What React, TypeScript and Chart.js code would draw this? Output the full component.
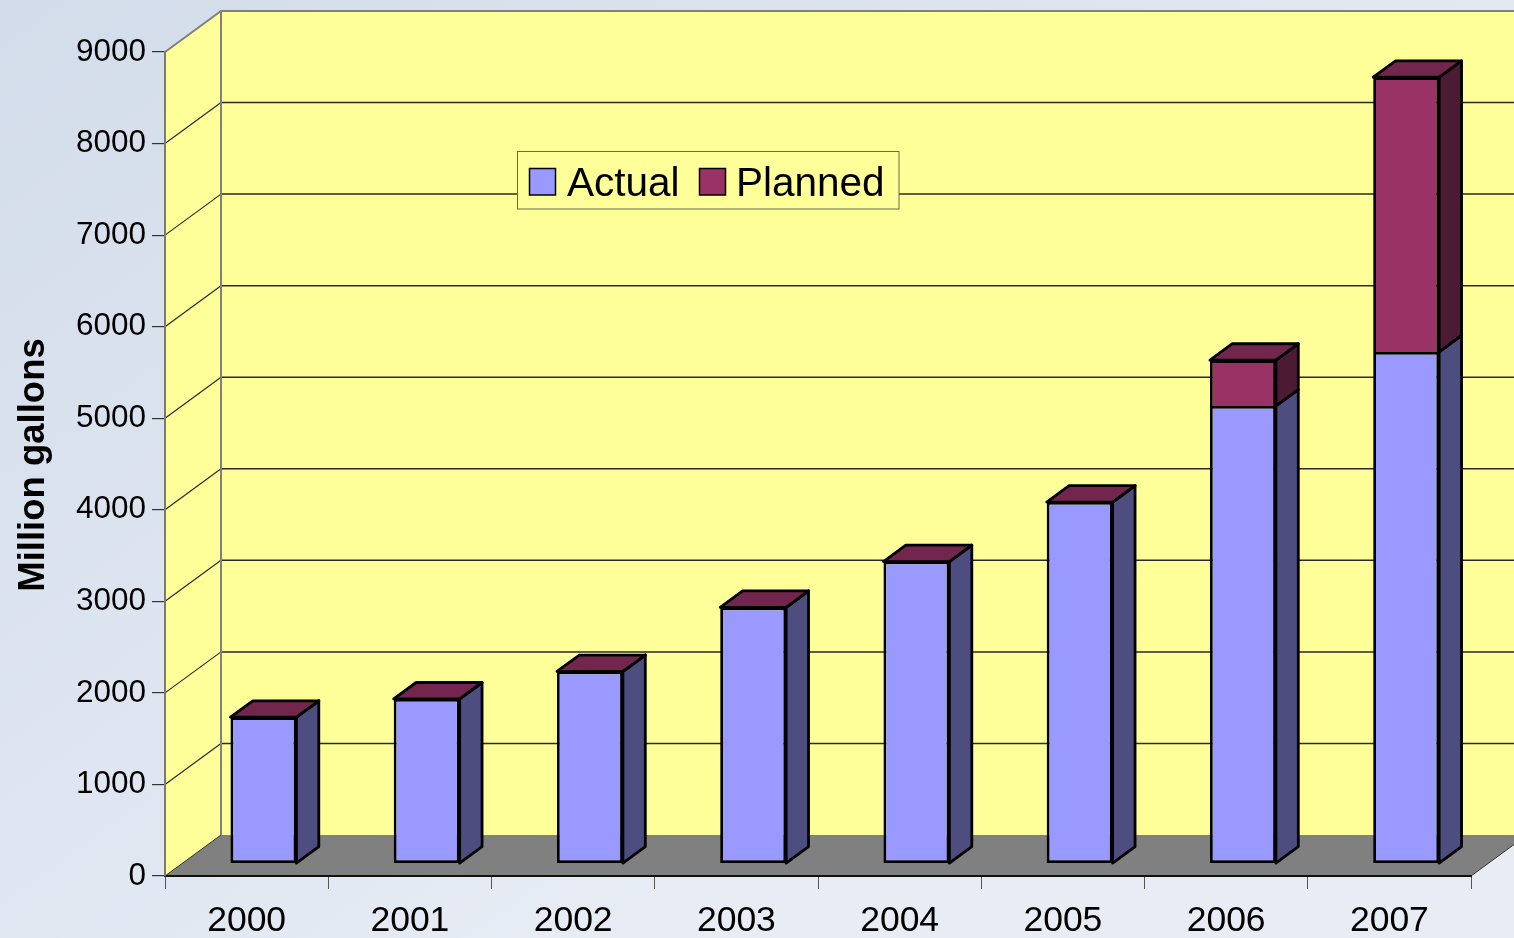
import React, { useEffect, useRef } from 'react';
import { Chart, registerables } from 'chart.js';

Chart.register(...registerables);

// ---------- data ----------
const categories = ['2000', '2001', '2002', '2003', '2004', '2005', '2006', '2007'];
const actualValues = [1600, 1800, 2100, 2800, 3300, 3950, 5000, 5590];
const plannedValues = [0, 0, 0, 0, 0, 0, 500, 3000];
const seriesNames = ['Actual', 'Planned'];
const yAxisTitle = 'Million gallons';
const yMin = 0;
const yMax = 9000;
const yStep = 1000;

// ---------- style ----------
const FONT = '"Liberation Sans", Arial, Helvetica, sans-serif';
const DEPTH_X = 56;
const DEPTH_Y = -41;
const BAR_FRONT = 0.3;
const BAR_DEPTH = 0.4;
const WALL = '#ffff99';
const FLOOR = '#808080';
const frontColors = ['#9999ff', '#993366'];
const sideColors = ['#4d4d80', '#4d1a33'];
const topColors = ['#7373bf', '#73264d'];
const OUTLINE = 2.8;

const threeD = {
  id: 'threeD',
  beforeDraw(chart: any) {
    const { ctx, chartArea: a, scales } = chart;
    const ys = scales.y;
    const W = chart.width;
    const H = chart.height;
    const dx = DEPTH_X;
    const dy = DEPTH_Y;
    ctx.save();
    // page background
    const g = ctx.createLinearGradient(0, 0, W * 0.45, H);
    g.addColorStop(0, '#d3dcea');
    g.addColorStop(0.6, '#dfe6f1');
    g.addColorStop(1, '#e8edf5');
    ctx.fillStyle = g;
    ctx.fillRect(0, 0, W, H);

    // back wall
    ctx.fillStyle = WALL;
    ctx.fillRect(a.left + dx, a.top + dy, W, a.bottom - a.top);
    // side wall
    ctx.beginPath();
    ctx.moveTo(a.left, a.top);
    ctx.lineTo(a.left + dx, a.top + dy);
    ctx.lineTo(a.left + dx, a.bottom + dy);
    ctx.lineTo(a.left, a.bottom);
    ctx.closePath();
    ctx.fill();

    // gridlines
    for (let v = yMin + yStep; v < yMax; v += yStep) {
      const py = ys.getPixelForValue(v);
      ctx.strokeStyle = '#2a2a2a';
      ctx.lineWidth = 1.5;
      ctx.beginPath();
      ctx.moveTo(a.left + dx, py + dy);
      ctx.lineTo(W, py + dy);
      ctx.stroke();
      ctx.lineWidth = 1.2;
      ctx.beginPath();
      ctx.moveTo(a.left, py);
      ctx.lineTo(a.left + dx, py + dy);
      ctx.stroke();
    }

    // floor
    ctx.fillStyle = FLOOR;
    ctx.beginPath();
    ctx.moveTo(a.left, a.bottom);
    ctx.lineTo(a.left + dx, a.bottom + dy);
    ctx.lineTo(a.right + dx, a.bottom + dy);
    ctx.lineTo(a.right, a.bottom);
    ctx.closePath();
    ctx.fill();
    ctx.strokeStyle = '#333';
    ctx.lineWidth = 1;
    ctx.beginPath();
    ctx.moveTo(a.right, a.bottom);
    ctx.lineTo(a.right + dx, a.bottom + dy);
    ctx.stroke();
    ctx.beginPath();
    ctx.moveTo(a.left, a.bottom);
    ctx.lineTo(a.left + dx, a.bottom + dy);
    ctx.stroke();

    // wall outlines
    ctx.strokeStyle = '#808080';
    ctx.lineWidth = 2;
    ctx.beginPath();
    ctx.moveTo(a.left, a.top);
    ctx.lineTo(a.left + dx, a.top + dy);
    ctx.lineTo(W + 5, a.top + dy);
    ctx.moveTo(a.left + dx, a.top + dy);
    ctx.lineTo(a.left + dx, a.bottom + dy);
    ctx.stroke();
    ctx.restore();
  },
  beforeDatasetsDraw(chart: any) {
    const ctx = chart.ctx;
    ctx.save();
    ctx.translate(DEPTH_X * BAR_FRONT, DEPTH_Y * BAR_FRONT);
  },
  afterDatasetsDraw(chart: any) {
    const ctx = chart.ctx;
    ctx.restore();
    const fx = DEPTH_X * BAR_FRONT;
    const fy = DEPTH_Y * BAR_FRONT;
    const bx = DEPTH_X * BAR_DEPTH;
    const by = DEPTH_Y * BAR_DEPTH;
    ctx.save();
    ctx.lineWidth = OUTLINE;
    ctx.lineJoin = 'round';
    ctx.strokeStyle = '#000';
    const n = chart.data.datasets.length;
    chart.data.datasets.forEach((_ds: any, di: number) => {
      const meta = chart.getDatasetMeta(di);
      meta.data.forEach((el: any) => {
        const L = el.x - el.width / 2 + fx;
        const R = el.x + el.width / 2 + fx;
        const T = Math.min(el.y, el.base) + fy;
        const B = Math.max(el.y, el.base) + fy;
        ctx.beginPath();
        ctx.moveTo(R, T);
        ctx.lineTo(R + bx, T + by);
        ctx.lineTo(R + bx, B + by);
        ctx.lineTo(R, B);
        ctx.closePath();
        ctx.fillStyle = sideColors[di];
        ctx.fill();
        ctx.stroke();
        if (di === n - 1) {
          ctx.beginPath();
          ctx.moveTo(L, T);
          ctx.lineTo(L + bx, T + by);
          ctx.lineTo(R + bx, T + by);
          ctx.lineTo(R, T);
          ctx.closePath();
          ctx.fillStyle = topColors[di];
          ctx.fill();
          ctx.stroke();
        }
      });
    });
    ctx.restore();
  },
  afterDraw(chart: any) {
    const ctx = chart.ctx;
    ctx.save();
    // axis title
    ctx.translate(43.5, 465);
    ctx.rotate(-Math.PI / 2);
    ctx.font = 'bold 36.5px ' + FONT;
    ctx.fillStyle = '#000';
    ctx.textAlign = 'center';
    ctx.textBaseline = 'alphabetic';
    ctx.fillText(yAxisTitle, 0, 0);
    ctx.restore();

    // legend
    ctx.save();
    ctx.fillStyle = WALL;
    ctx.fillRect(517.5, 151.5, 381.5, 57.5);
    ctx.strokeStyle = '#6a6a50';
    ctx.lineWidth = 1;
    ctx.strokeRect(517.5, 151.5, 381.5, 57.5);
    const swatchX = [529.5, 699.5];
    const textX = [567, 736];
    ctx.font = '40.5px ' + FONT;
    ctx.textBaseline = 'alphabetic';
    ctx.textAlign = 'left';
    chart.data.datasets.forEach((ds: any, i: number) => {
      ctx.fillStyle = ds.backgroundColor;
      ctx.fillRect(swatchX[i], 168.5, 26, 26.5);
      ctx.strokeStyle = '#000';
      ctx.lineWidth = 1.5;
      ctx.strokeRect(swatchX[i], 168.5, 26, 26.5);
      ctx.fillStyle = '#000';
      ctx.fillText(ds.label, textX[i], 196);
    });
    ctx.restore();
  },
};

export default function App() {
  const ref = useRef<HTMLCanvasElement>(null);
  useEffect(() => {
    if (!ref.current) return;
    Chart.defaults.font.family = FONT;
    const chart = new Chart(ref.current, {
      type: 'bar',
      data: {
        labels: categories,
        datasets: [
          {
            label: seriesNames[0],
            data: actualValues,
            backgroundColor: frontColors[0],
            borderColor: '#000',
            borderWidth: OUTLINE,
            borderSkipped: false,
            barPercentage: 0.404,
            categoryPercentage: 1,
          },
          {
            label: seriesNames[1],
            data: plannedValues,
            backgroundColor: frontColors[1],
            borderColor: '#000',
            borderWidth: OUTLINE,
            borderSkipped: 'bottom',
            barPercentage: 0.404,
            categoryPercentage: 1,
          },
        ],
      },
      options: {
        responsive: false,
        animation: false,
        devicePixelRatio: 1,
        layout: { padding: { top: 52, right: 43, left: 0, bottom: 0 } },
        plugins: {
          legend: { display: false },
          tooltip: { enabled: false },
          title: { display: false },
        },
        scales: {
          x: {
            stacked: true,
            offset: true,
            grid: {
              offset: true,
              drawOnChartArea: false,
              drawTicks: true,
              tickLength: 13,
              color: '#555',
              lineWidth: 1,
            },
            border: { display: true, color: '#111', width: 2 },
            ticks: {
              font: { size: 35.5, family: FONT },
              color: '#000',
              padding: 11,
              maxRotation: 0,
              autoSkip: false,
            },
            afterFit: (s: any) => {
              s.height = 62;
            },
          },
          y: {
            stacked: true,
            min: yMin,
            max: yMax,
            grid: {
              drawOnChartArea: false,
              drawTicks: true,
              tickLength: 13,
              color: '#333',
              lineWidth: 1.2,
            },
            border: { display: true, color: '#7a7a7a', width: 2 },
            ticks: {
              stepSize: yStep,
              font: { size: 31.5, family: FONT },
              color: '#000',
              padding: 6,
              callback: (v: any) => String(v),
            },
            afterFit: (s: any) => {
              s.width = 165;
            },
          },
        },
      },
      plugins: [threeD],
    });
    return () => chart.destroy();
  }, []);
  return (
    <div style={{ position: 'absolute', left: 0, top: 0, width: 1514, height: 938, overflow: 'hidden' }}>
      <canvas ref={ref} width={1514} height={938} style={{ display: 'block' }} />
    </div>
  );
}
